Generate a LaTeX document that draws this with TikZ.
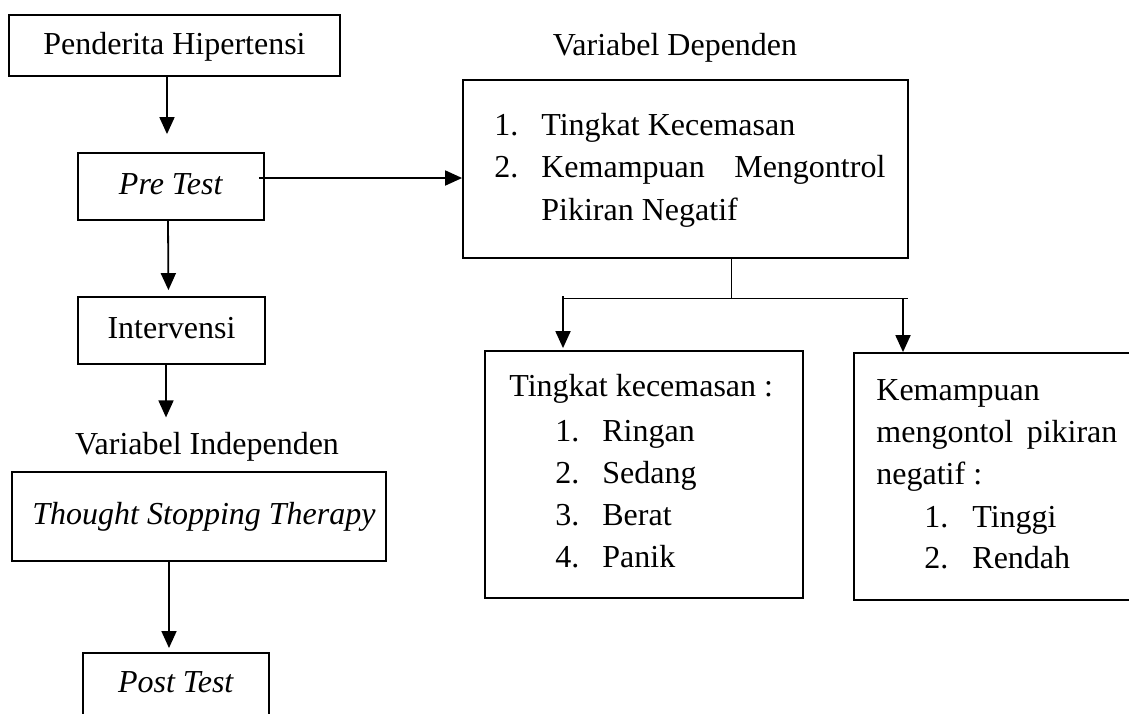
\documentclass[tikz,border=0pt]{standalone}
\usepackage{fontspec}
\setmainfont{Liberation Serif}
\usepackage{tikz}
\usetikzlibrary{arrows.meta}

\begin{document}
\begin{tikzpicture}[x=0.5pt, y=-0.5pt,
	every node/.style={font=\fontsize{16pt}{20pt}\selectfont},
	>={Triangle[length=8.5pt, width=7.5pt]},
	flowbox/.style={draw, line width=0.9pt, inner sep=0pt, text height=11pt, text depth=3.5pt},
	txt/.style={anchor=base west, inner sep=0pt},
	arr/.style={->, line width=0.9pt},
	thin/.style={line width=0.5pt}]
	\useasboundingbox (0,0) rectangle (1129,713);
	\clip (0,0) rectangle (1129,713);
	% left column
	\node[flowbox, minimum width=165.5pt, minimum height=30.5pt, text depth=2.5pt] (pen) at (174.5,45.5) {Penderita Hipertensi};
	\node[flowbox, minimum width=93pt, minimum height=33.5pt] (pre) at (171,186.5) {\textit{Pre Test}};
	\node[flowbox, minimum width=93.5pt, minimum height=33.5pt] (intv) at (171.5,330.5) {Intervensi};
	\node[anchor=base, inner sep=0pt] (vi) at (207,454) {Variabel Independen};
	\node[flowbox, minimum width=187pt, minimum height=44.5pt] (tst) at (199,516.5) {\hspace*{5pt}\textit{Thought Stopping Therapy}};
	\node[flowbox, minimum width=93pt, minimum height=35pt, text depth=6.5pt, anchor=north] (post) at (176,652) {\textit{Post Test}};
	\draw[arr, shorten >=9pt] ([xshift=-3.75pt]pen.south) -- ([xshift=-2pt]pre.north);
	\draw[arr, shorten >=3pt] ([xshift=-1.5pt]pre.south) -- ([xshift=-1.5pt]intv.north);
	\draw[arr, shorten >=7pt] ([xshift=-2.75pt]intv.south) -- ([xshift=-2.75pt]intv.south |- vi.north);
	\draw[arr, shorten >=2pt] ([xshift=-15pt]tst.south) -- ([xshift=-3.5pt]post.north);
	% dependent variables
	\node[anchor=base, inner sep=0pt] (vd) at (675,55) {Variabel Dependen};
	\node[flowbox, minimum width=222.5pt, minimum height=89pt] (dep) at (685.5,169) {};
	\node[txt] (dep1) at (494,135) {\makebox[23.5pt][l]{1.}Tingkat Kecemasan};
	\node[txt] (dep2) at (494,177) {\makebox[23.5pt][l]{2.}\makebox[172pt][l]{Kemampuan\hfill Mengontrol}};
	\node[txt] (dep3) at (541,220) {Pikiran Negatif};
	\draw[arr] ([shift={(-3pt,4.25pt)}]pre.east) -- ([yshift=4.25pt]pre.east -| dep.west);
	% categories
	\node[flowbox, minimum width=159pt, minimum height=123.5pt] (tk) at (644,474.5) {};
	\node[txt] (tk0) at (509,396) {Tingkat kecemasan :};
	\node[txt] (tk1) at (555,441) {\makebox[23.5pt][l]{1.}Ringan};
	\node[txt] (tk2) at (555,483) {\makebox[23.5pt][l]{2.}Sedang};
	\node[txt] (tk3) at (555,525) {\makebox[23.5pt][l]{3.}Berat};
	\node[txt] (tk4) at (555,567) {\makebox[23.5pt][l]{4.}Panik};
	\node[flowbox, minimum width=150pt, minimum height=123.5pt] (km) at (1004,476.5) {};
	\node[txt] (km0) at (876,400) {Kemampuan};
	\node[txt] (km1) at (876,442) {\makebox[120.5pt][l]{mengontol\hfill pikiran}};
	\node[txt] (km2) at (876,484) {negatif :};
	\node[txt] (km3) at (924,527) {\makebox[24pt][l]{1.}Tinggi};
	\node[txt] (km4) at (924,568) {\makebox[24pt][l]{2.}Rendah};
	\coordinate (jn) at (731,298);
	\coordinate (jl) at (563,298);
	\coordinate (jr) at (908,298);
	\draw[thin] (dep.south -| jn) -- (jn);
	\draw[thin] (jl) -- (jr);
	\draw[arr, shorten >=1pt] ([yshift=1pt]jl) -- (jl |- tk.north);
	\draw[arr] ([xshift=-2.5pt]jr) -- ([xshift=-2.5pt]jr |- km.north);
\end{tikzpicture}
\end{document}
